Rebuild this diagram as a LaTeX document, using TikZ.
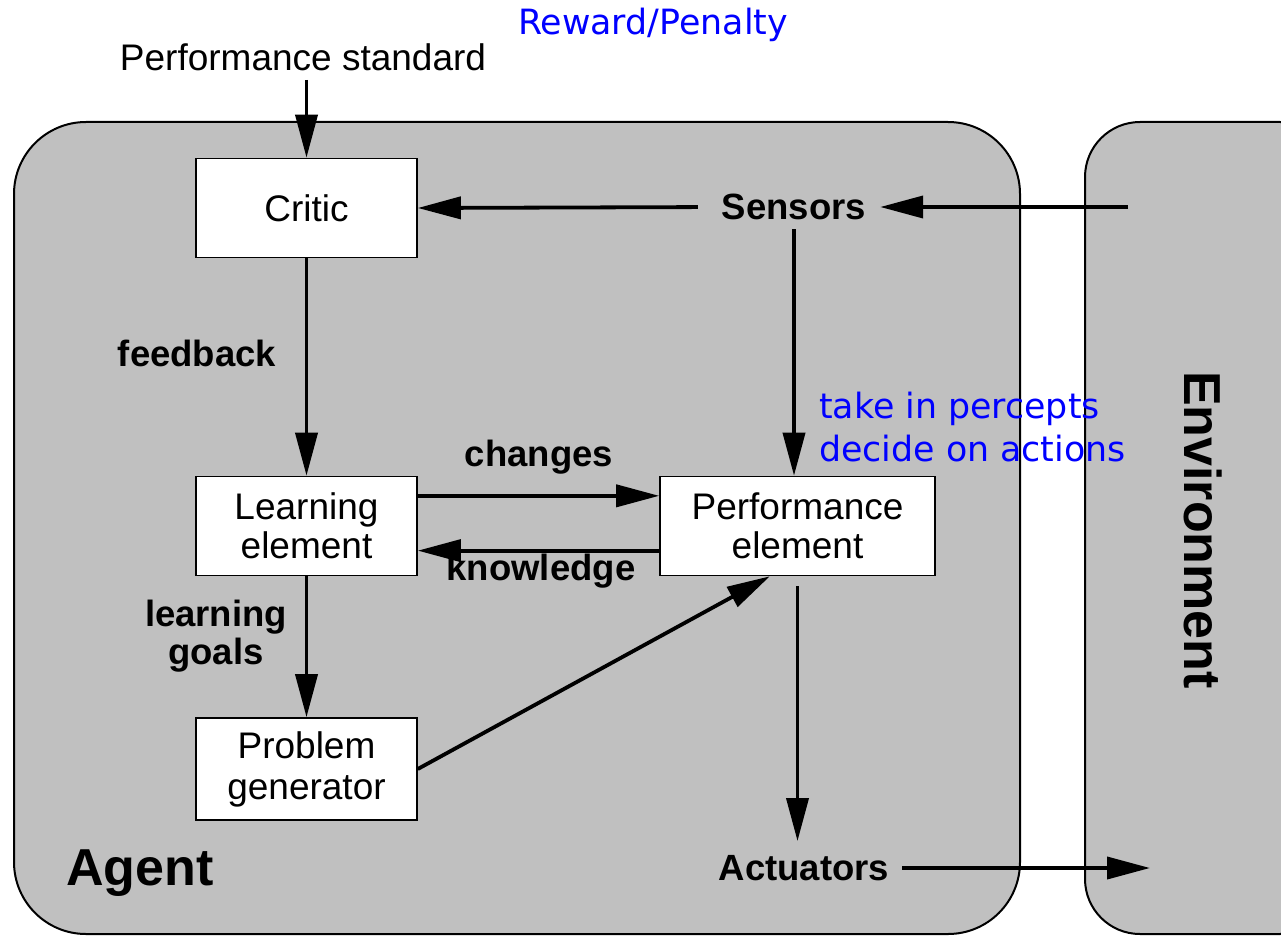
\documentclass[tikz,border=0pt]{standalone}
\usepackage{fontspec}
\setmainfont{Liberation Sans}
\newfontfamily\bluefont{DejaVu Sans}
\usetikzlibrary{arrows.meta,calc}
\definecolor{agentgray}{HTML}{C0C0C0}
\definecolor{annblue}{HTML}{0000FF}
\begin{document}
\begin{tikzpicture}[x=1pt,y=-1pt,
  box/.style={draw, fill=white, line width=1.6pt, inner sep=0, minimum width=221pt, minimum height=99pt, align=center, font=\fontsize{37}{39}\selectfont},
  lbl/.style={inner sep=0, font=\fontsize{36.5}{38}\selectfont\bfseries},
  biglbl/.style={inner sep=0, font=\fontsize{52}{52}\selectfont\bfseries},
  arr/.style={-{Triangle[length=43pt,width=22pt]}, line width=3.8pt},
  ann/.style={inner sep=0, text=annblue, font=\bluefont\fontsize{34.8}{43}\selectfont},
  region/.style={draw, fill=agentgray, line width=2pt}]
\fill[white] (0,0) rectangle (1281,936);
\useasboundingbox (0,0) rectangle (1281,936);
\begin{scope}
\clip (0,0) rectangle (1281,936);
\draw[region, rounded corners=72pt] (14,122) rectangle (1020,934);
\draw[region, rounded corners=55pt] (1085,122) rectangle (1335,934);
\end{scope}

\node[inner sep=0, font=\fontsize{37}{38}\selectfont] (ps) at (303,57) {Performance standard};
\node[box] (critic) at (306.5,208) {Critic};
\node[lbl] (sensors) at (794,207) {Sensors};
\node[box, minimum width=275pt] (perf) at (797.5,526) {Performance\\element};
\node[box] (learn) at (306.5,526) {Learning\\element};
\node[box, minimum height=102pt, font=\fontsize{37}{41}\selectfont] (prob) at (306.5,769) {Problem\\generator};
\node[lbl] (act) at (804,868) {Actuators};
\coordinate (envin) at (1128,207);
\coordinate (envout) at (1150,872);

\node[lbl] (fb) at (197,353) {feedback};
\node[lbl] (ch) at (539,457) {changes};
\node[lbl] (kn) at (541,571) {knowledge};
\node[lbl, align=center] (lg) at (216,636) {learning\\goals};
\node[biglbl] (agent) at (140,873) {Agent};
\node[biglbl, rotate=-90] (envlabel) at (1203,530) {Environment};

\node[ann] (rp) at (653,25) {Reward/Penalty};
\node[ann, anchor=west, align=left] (note) at (819,427) {take in percepts\\decide on actions};

\draw[arr, shorten <=9pt] (critic.north |- ps.south) -- (critic.north);
\draw[arr, shorten <=24pt] (sensors.west) -- (critic.east);
\draw[arr, shorten >=14pt] (envin |- sensors.east) -- (sensors.east);
\draw[arr, shorten <=9pt] (sensors.south) -- (sensors.south |- perf.north);
\draw[arr] (critic.south) -- (learn.north);
\draw[arr] ($(learn.north east)!0.2!(learn.south east)$) -- ($(perf.north west)!0.2!(perf.south west)$);
\draw[arr] ($(perf.north west)!0.745!(perf.south west)$) -- ($(learn.north east)!0.745!(learn.south east)$);
\draw[arr] (learn.south) -- (prob.north);
\draw[arr] (prob.east) -- ($(perf.south west)!0.4!(perf.south east)$);
\draw[arr, shorten <=10pt, shorten >=14pt] (perf.south) -- (perf.south |- act.north);
\draw[arr, shorten <=13pt] (act.east) -- (act.east -| envout);
\end{tikzpicture}
\end{document}
